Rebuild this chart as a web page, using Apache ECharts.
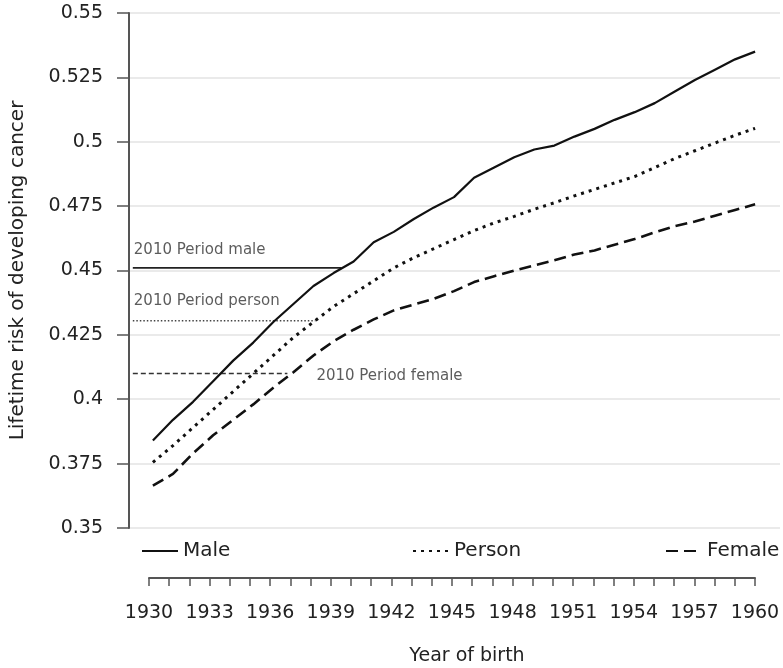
<!DOCTYPE html>
<html>
<head>
<meta charset="utf-8">
<script src="https://cdn.jsdelivr.net/npm/echarts@6/dist/echarts.min.js"></script>
<style>
html,body{margin:0;padding:0;background:#fff;}
#chart{width:783px;height:668px;}
</style>
</head>
<body>
<div id="chart"></div>
<script>
// ---- data ----
const years = [1930,1931,1932,1933,1934,1935,1936,1937,1938,1939,1940,1941,1942,1943,1944,1945,
               1946,1947,1948,1949,1950,1951,1952,1953,1954,1955,1956,1957,1958,1959,1960];
const male = [0.384,0.392,0.399,0.407,0.415,0.422,0.430,0.437,0.444,0.449,0.4535,0.461,0.465,0.470,0.4745,0.4785,
              0.486,0.490,0.494,0.497,0.4985,0.502,0.505,0.5085,0.5115,0.515,0.5195,0.524,0.528,0.532,0.535];
const person = [0.3755,0.382,0.389,0.396,0.403,0.410,0.417,0.424,0.430,0.436,0.441,0.446,0.451,0.455,0.4585,0.462,
                0.4655,0.4685,0.471,0.4738,0.4763,0.479,0.4815,0.484,0.4865,0.490,0.4935,0.4965,0.4995,0.5025,0.5052];
const female = [0.3665,0.371,0.379,0.386,0.392,0.398,0.4045,0.4105,0.417,0.4225,0.427,0.431,0.4345,0.4368,0.439,0.442,
                0.4455,0.4478,0.450,0.452,0.454,0.4562,0.4578,0.460,0.4622,0.4648,0.4672,0.469,0.4713,0.4735,0.4757];
const seriesNames = ['Male','Person','Female'];
// 2010 period risks: [value, start year, end year]
const periodMale = [0.451, 1929, 1939.4];
const periodPerson = [0.4305, 1929, 1938.1];
const periodFemale = [0.41, 1929, 1936.7];
const periodLabels = ['2010 Period male','2010 Period person','2010 Period female'];
const xTickLabels = ['1930','1933','1936','1939','1942','1945','1948','1951','1954','1957','1960'];
const yTickLabels = ['0.35','0.375','0.4','0.425','0.45','0.475','0.5','0.525','0.55'];

// ---- chart ----
const FONT = 'DejaVu Sans';
const TXT = '#222';
const pairs = arr => years.map((y,i)=>[y, arr[i]]);
const chart = echarts.init(document.getElementById('chart'), null, {renderer:'canvas'});

function periodSeries(p, style){
  return {type:'line', xAxisIndex:0, yAxisIndex:0, symbol:'none', silent:true,
    lineStyle:style, data:[[p[1],p[0]],[p[2],p[0]]], z:2};
}
function labelSeries(pt, text, offset){
  return {type:'scatter', xAxisIndex:0, yAxisIndex:0, symbolSize:0, silent:true,
    data:[{value:pt, label:{show:true, formatter:text, position:'right', distance:0, offset:offset,
      fontFamily:FONT, fontSize:15, color:'#333'}}]};
}
function legendAt(name, left){
  return {data:[name], left:left, top:541, padding:0, itemWidth:36, itemHeight:14,
    itemStyle:{opacity:0},
    textStyle:{fontFamily:FONT, fontSize:20, color:TXT}};
}

const option = {
  animation:false,
  backgroundColor:'#fff',
  grid:[
    {left:125, top:13, width:655, height:515, containLabel:false},
    {left:149, top:577, width:606, height:1, containLabel:false}
  ],
  xAxis:[
    {gridIndex:0, type:'value', min:1928.81, max:1961.24, show:false},
    {gridIndex:1, type:'value', min:1930, max:1960, interval:1, position:'bottom',
     axisLine:{show:true, lineStyle:{color:'#555', width:2}},
     axisTick:{show:true, inside:false, length:8, lineStyle:{color:'#555', width:1.5}},
     splitLine:{show:false},
     axisLabel:{margin:26, fontFamily:FONT, fontSize:19, color:TXT,
       formatter:v => xTickLabels.indexOf(String(v))>=0 ? String(v) : ''},
     name:'Year of birth', nameLocation:'middle', nameGap:69,
     nameTextStyle:{fontFamily:FONT, fontSize:19, color:TXT, padding:[0,0,0,30]}}
  ],
  yAxis:[
    {gridIndex:0, type:'value', min:0.35, max:0.55, interval:0.025,
     axisLine:{show:true, lineStyle:{color:'#555', width:2}},
     axisTick:{show:true, inside:false, length:12, lineStyle:{color:'#555', width:1.5}},
     splitLine:{show:true, lineStyle:{color:'#e3e3e3', width:1.5}},
     axisLabel:{margin:26, fontFamily:FONT, fontSize:19, color:TXT,
       formatter:v => { const s = yTickLabels.find(t => Math.abs(parseFloat(t)-v)<1e-6); return s || ''; }},
     name:'Lifetime risk of developing cancer', nameLocation:'middle', nameGap:101,
     nameTextStyle:{fontFamily:FONT, fontSize:20, color:TXT}},
    {gridIndex:1, type:'value', show:false}
  ],
  legend:[ legendAt(seriesNames[0], 141), legendAt(seriesNames[1], 412), legendAt(seriesNames[2], 665) ],
  series:[
    {name:seriesNames[0], type:'line', xAxisIndex:0, yAxisIndex:0, data:pairs(male), symbol:'none',
     lineStyle:{color:'#111', width:2.2, type:'solid'}, itemStyle:{color:'#111'}, z:3},
    {name:seriesNames[1], type:'line', xAxisIndex:0, yAxisIndex:0, data:pairs(person), symbol:'none',
     lineStyle:{color:'#111', width:3, type:[3,5]}, itemStyle:{color:'#111'}, z:3},
    {name:seriesNames[2], type:'line', xAxisIndex:0, yAxisIndex:0, data:pairs(female), symbol:'none',
     lineStyle:{color:'#111', width:2.6, type:[12,6]}, itemStyle:{color:'#111'}, z:3},
    periodSeries(periodMale, {color:'#222', width:1.8, type:'solid'}),
    periodSeries(periodPerson, {color:'#444', width:1.4, type:[1.5,2]}),
    periodSeries(periodFemale, {color:'#333', width:1.6, type:[5,3]}),
    labelSeries([periodMale[1], periodMale[0]], periodLabels[0], [1,-18]),
    labelSeries([periodPerson[1], periodPerson[0]], periodLabels[1], [1,-20]),
    labelSeries([periodFemale[2], periodFemale[0]], periodLabels[2], [29,3])
  ]
};
chart.setOption(option);
</script>
</body>
</html>
